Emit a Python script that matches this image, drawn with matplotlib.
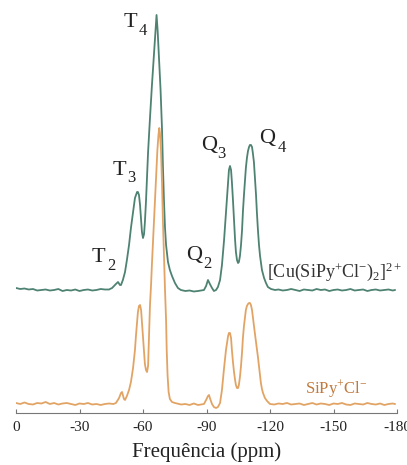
import numpy as np
import matplotlib
matplotlib.use("Agg")
from matplotlib import pyplot as plt

plt.rcParams['font.family'] = ['Liberation Serif', 'DejaVu Serif']
plt.rcParams['mathtext.fontset'] = 'custom'
plt.rcParams['mathtext.rm'] = 'Liberation Serif'
plt.rcParams['mathtext.it'] = 'Liberation Serif:italic'
plt.rcParams['axes.unicode_minus'] = False

# ---- spectrum of the Cu complex (ppm, intensity above baseline) ----
cu_ppm = [0, -2, -4, -6, -8, -10, -12, -14, -16, -18, -20, -22, -24, -26, -28, -30,
          -32, -34, -36, -38, -40, -42, -44,
          -44.4, -45.4, -46.3, -47.2, -48.2, -49.1, -49.6, -50.5, -51.5, -52.4, -53.4,
          -54.3, -55.3, -56.2, -57.2, -57.6, -58.1, -58.6, -59.1, -59.5, -60.0, -60.5,
          -60.9, -61.4, -61.9, -62.4, -63.3, -64.2, -65.2, -65.9, -66.4, -66.9, -67.6,
          -68.3, -69.0, -69.4, -69.9, -70.4, -70.9, -71.8, -72.7, -73.7, -75.1, -76.5,
          -77.9, -80, -82, -84, -86,
          -88.8, -89.8, -90.7, -91.6, -92.6, -93.5, -94.5, -95.4, -96.4, -97.3, -98.3,
          -99.2, -99.7, -100.2, -100.6, -101.1, -101.6, -102.0, -102.5, -103.0, -103.5,
          -103.9, -104.4, -104.9, -105.3, -105.8, -106.3, -106.8, -107.2, -107.7, -108.2,
          -108.6, -109.1, -109.6, -110.1, -110.5, -111.0, -111.5, -111.9, -112.4, -112.9,
          -113.4, -113.8, -114.3, -114.8, -115.3, -116.2, -117.2, -118.1, -119.0, -120.5,
          -122.4,
          -124, -126, -128, -130, -132, -134, -136, -138, -140, -142, -144, -146, -148,
          -150, -152, -154, -156, -158, -160, -162, -164, -166, -168, -170, -172, -174,
          -176, -178, -179]
cu_int = [2, 1, 1.5, 0.5, 1, -0.5, 0, 0.5, -0.5, 0, 1, -1, 0, -0.5, 0.5, -1,
          0, 0.5, -0.5, 0, 1, 0.5, 0.5,
          1, 2, 4, 6, 8, 5, 5, 10, 18, 30, 45,
          62, 78, 92, 98, 98, 95, 85, 70, 58, 52, 56,
          68, 88, 112, 138, 172, 204, 236, 260, 275, 260, 230,
          200, 160, 125, 90, 62, 45, 28, 20, 14, 7, 2,
          0, -1, -0.5, -1.5, -1,
          0, 4, 10, 6, 2, -1, 0, 3, 10, 25, 50,
          78, 93, 108, 120, 124, 120, 108, 90, 70, 50,
          38, 30, 27, 28, 34, 45, 60, 78, 95, 110,
          122, 132, 139, 143, 145, 145, 143, 137, 128, 112,
          95, 78, 60, 45, 34, 20, 12, 7, 3, 1,
          0,
          0.5, -0.5, 0, 1, 0, -1, 0.5, 0, -0.5, 1, 0, 0.5, -1,
          0, 0.5, -0.5, 0, 1, -0.5, 0, 0.5, -1, 0, 0.5, -0.5, 0,
          0.5, -0.5, 0]

# ---- spectrum of SiPy+Cl- ----
sipy_ppm = [0, -2, -4, -6, -8, -10, -12, -14, -16, -18, -20, -22, -24, -26, -28, -30,
            -32, -34, -36, -38, -40, -42, -44, -46,
            -47.2, -48.7, -49.6, -50.1, -50.5, -51.0, -51.5, -52.4, -53.4, -54.3, -55.3,
            -56.2, -56.7, -57.2, -57.6, -58.1, -58.6, -59.1, -59.5, -60.0, -60.5, -60.9,
            -61.4, -61.9, -62.4, -62.8, -63.3, -63.8, -64.2, -65.2, -66.1, -66.8, -67.3,
            -67.7, -68.0, -68.5, -69.0, -69.4, -69.9, -70.4, -70.9, -71.2, -71.6, -72.1,
            -72.7, -73.7, -75.1,
            -76, -78, -80, -82, -84, -86,
            -88.8, -89.8, -90.7, -91.2, -91.6, -92.6, -93.5, -94.5, -95.4, -96.4, -97.3,
            -98.3, -99.2, -100.2, -100.6, -101.1, -101.6, -102.0, -102.5, -103.0, -103.5,
            -103.9, -104.4, -104.9, -105.3, -105.8, -106.3, -106.8, -107.2, -107.7, -108.2,
            -108.6, -109.1, -109.6, -110.1, -110.5, -111.0, -111.5, -111.9, -112.4, -112.9,
            -113.4, -113.8, -114.3, -114.8, -115.3, -115.7, -116.2, -116.7, -117.6, -118.6,
            -120.0,
            -122, -124, -126, -128, -130, -132, -134, -136, -138, -140, -142, -144, -146,
            -148, -150, -152, -154, -156, -158, -160, -162, -164, -166, -168, -170, -172,
            -174, -176, -178, -179]
sipy_int = [1, 0, 1.5, 0, -0.5, 1, 0.5, 2, 0, 1, -0.5, 0.5, 1, 0, -1, 0.5,
            0, 1, -0.5, 0, -1, 0, 0.5, 0,
            1, 6, 11, 12, 9, 5, 4, 8, 14, 22, 36,
            54, 69, 82, 92, 98, 99, 94, 82, 66, 52, 40,
            34, 32, 38, 64, 99, 119, 139, 184, 224, 254, 269,
            276, 271, 254, 219, 184, 149, 114, 84, 54, 29, 12,
            5, 2, 1,
            0.5, -0.5, 0, -1, 0.5, -1,
            0, 4, 8, 9, 6, 0, -3, -4, -3, 1, 14,
            36, 54, 68, 71, 71, 66, 54, 42, 32, 24,
            19, 16, 16, 19, 27, 38, 52, 66, 78, 87,
            94, 98, 100, 101, 101, 99, 94, 87, 78, 70,
            62, 55, 47, 38, 29, 21, 15, 11, 6, 3,
            0,
            -0.5, 0.5, 0, 1, -0.5, 0, 0.5, -1, 0, 1, -0.5, 0.5, 0,
            -1, 0.5, 0, 1, -0.5, -1, 0.5, 0, -0.5, 1, 0, -0.5, 0.5,
            -1, 0, 0.5, 0]

xticks = [0, -30, -60, -90, -120, -150, -180]

green = "#4e8272"
orange = "#e2a465"

fig = plt.figure(figsize=(4.07, 4.65), dpi=100)
ax = fig.add_axes([16 / 407, 52 / 465, 381 / 407, 403 / 465])

cu_offset = 123
sipy_offset = 9
ax.plot(cu_ppm, np.array(cu_int) + cu_offset, color=green, lw=1.3)
ax.plot(sipy_ppm, np.array(sipy_int) + sipy_offset, color=orange, lw=1.3)

ax.set_xlim(0, -180)
ax.set_ylim(0, 403)
ax.set_xticks(xticks)
ax.set_xticklabels([str(t) for t in xticks])
ax.set_yticks([])
for s in ['top', 'right', 'left']:
    ax.spines[s].set_visible(False)
ax.spines['bottom'].set_color('#777777')
ax.tick_params(axis='x', direction='in', length=3, color='#777777',
               labelsize=11, pad=6, labelcolor='#222222')
ax.set_xlabel("Frequência (ppm)", fontsize=15, labelpad=6, color='#222222')

# peak labels: main letter and subscript
peak_labels = [("T", "4", -53.9, 386, -60.0, 378),
               ("T", "3", -49.0, 238, -54.6, 231),
               ("T", "2", -39.0, 151, -44.9, 143),
               ("Q", "2", -84.3, 153, -90.5, 145),
               ("Q", "3", -91.4, 263, -97.1, 255),
               ("Q", "4", -118.8, 270, -125.7, 261)]
for main, sub, x1, y1, x2, y2 in peak_labels:
    ax.text(x1, y1, main, fontsize=16, ha='center', va='baseline', color='#222222')
    ax.text(x2, y2, sub, fontsize=12, ha='center', va='baseline', color='#222222')

ax.text(-118.6, 136, r"$\mathrm{[Cu(SiPy^{+}Cl^{-})_{2}]^{2+}}$", fontsize=13,
        ha='left', va='baseline', color='#333333')
ax.text(-136.5, 20, r"$\mathrm{SiPy^{+}Cl^{-}}$", fontsize=12,
        ha='left', va='baseline', color='#c07a3e')

fig.savefig("out.png", dpi=100)
